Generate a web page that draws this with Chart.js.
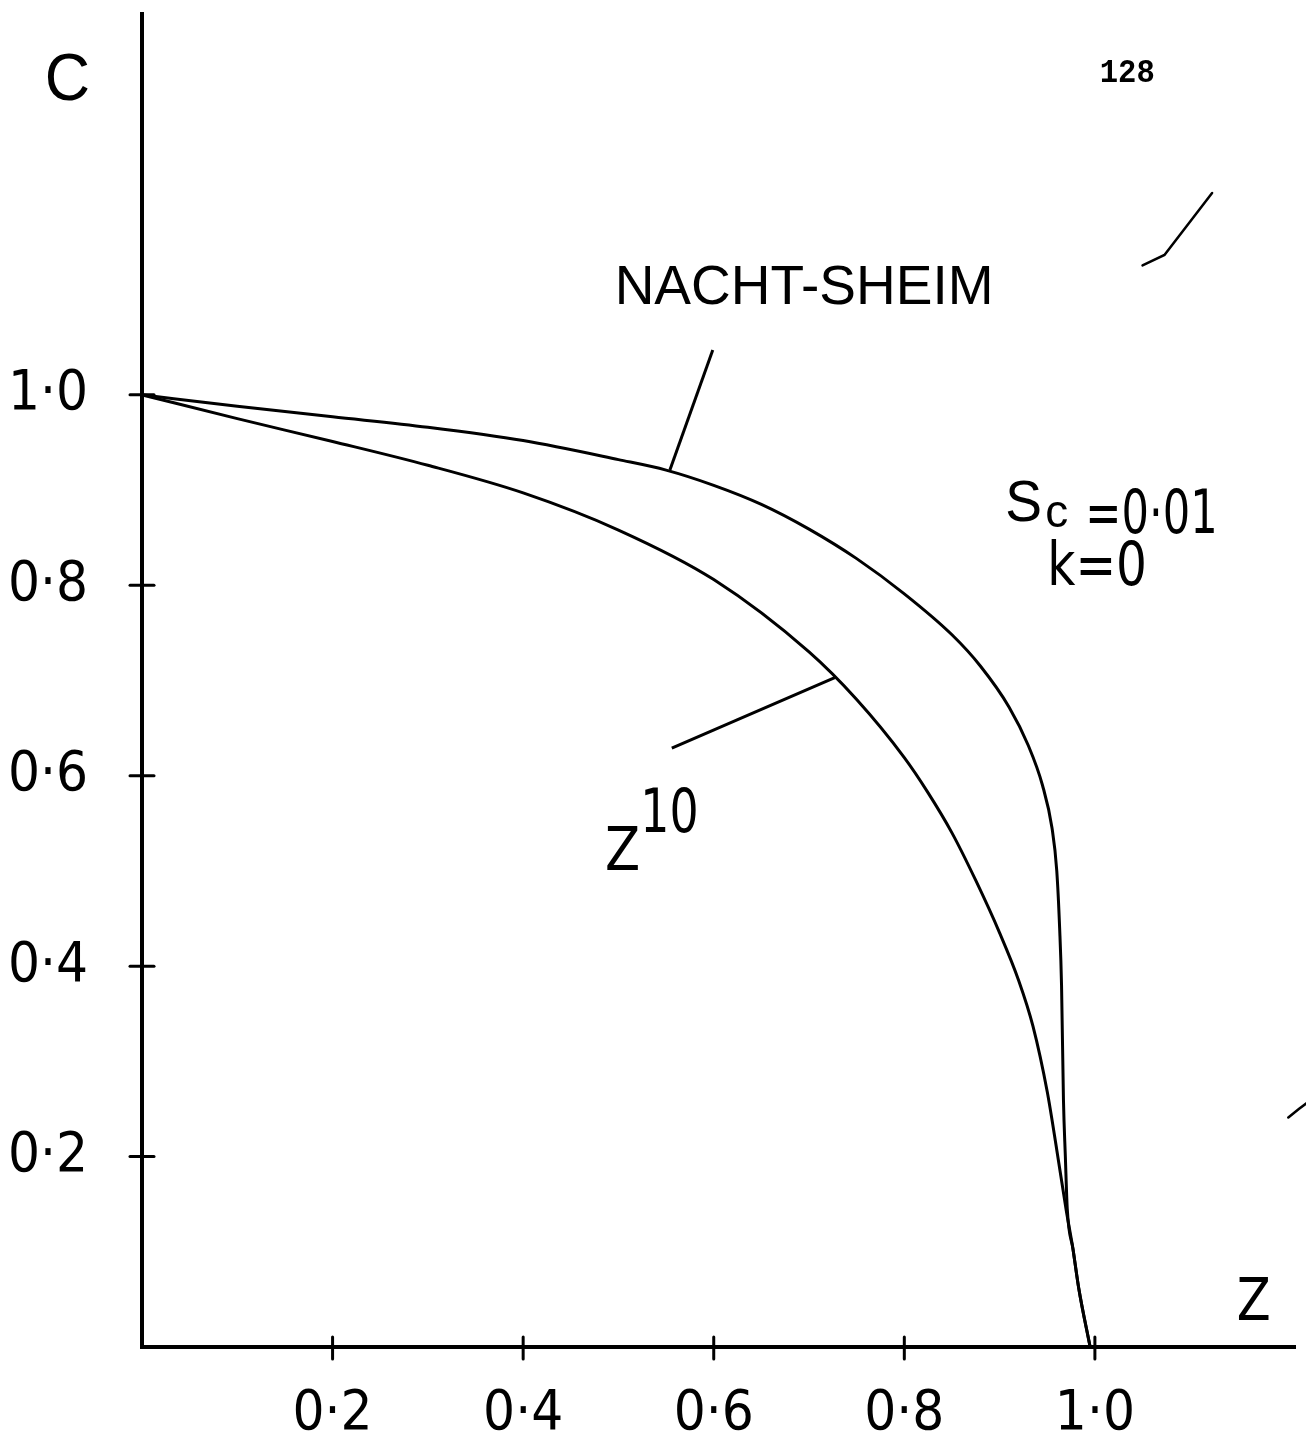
<!DOCTYPE html>
<html>
<head>
<meta charset="utf-8">
<script src="https://cdn.jsdelivr.net/npm/chart.js@4"></script>
<style>
html,body{margin:0;padding:0;background:#fff;}
canvas{display:block;}
</style>
</head>
<body>
<canvas id="c" width="1306" height="1437"></canvas>
<script>
// ---- Data ----
const nachtsheimZ = [0.000, 0.100, 0.200, 0.300, 0.400, 0.500, 0.550, 0.600, 0.650, 0.700, 0.750, 0.800, 0.850, 0.880, 0.910, 0.930, 0.945, 0.955, 0.960, 0.963, 0.965, 0.967, 0.969, 0.971, 0.977, 0.983, 0.995];
const nachtsheimC = [1.000, 0.988, 0.977, 0.966, 0.952, 0.932, 0.921, 0.905, 0.885, 0.859, 0.828, 0.791, 0.748, 0.715, 0.672, 0.632, 0.590, 0.545, 0.500, 0.440, 0.380, 0.260, 0.200, 0.145, 0.103, 0.062, 0.000];

const z10Z = [0.000, 0.100, 0.200, 0.300, 0.400, 0.500, 0.600, 0.700, 0.750, 0.800, 0.825, 0.850, 0.875, 0.900, 0.920, 0.935, 0.950, 0.960, 0.970, 0.977, 0.983, 0.995];
const z10C = [1.000, 0.975, 0.951, 0.926, 0.897, 0.858, 0.806, 0.730, 0.680, 0.619, 0.582, 0.540, 0.490, 0.435, 0.385, 0.337, 0.268, 0.207, 0.143, 0.103, 0.062, 0.000];

// leader lines (label pointers) in data units
const nachtLeaderZ = [0.599, 0.554];
const nachtLeaderC = [1.047, 0.921];
const z10LeaderZ = [0.556, 0.727];
const z10LeaderC = [0.629, 0.703];

// tick values and labels
const xTickValues = [0.2, 0.4, 0.6, 0.8, 1.0];
const xTickLabels = ['0·2', '0·4', '0·6', '0·8', '1·0'];
const yTickValues = [0.2, 0.4, 0.6, 0.8, 1.0];
const yTickLabels = ['0·2', '0·4', '0·6', '0·8', '1·0'];

// ---- Styling / annotation placement ----
const NARROW = '"Liberation Sans Narrow", "DejaVu Sans Condensed", "Liberation Sans", sans-serif';
const REG = '"Liberation Sans", "DejaVu Sans", sans-serif';

const textNotes = [
  {t: 'C', x: -0.102, y: 1.310, size: 66, fam: REG, sx: 0.95},
  {t: '128', x: 1.005, y: 1.329, size: 34, fam: '"Liberation Mono", "DejaVu Sans Mono", monospace', weight: 'bold', sx: 0.9},
  {t: 'NACHT-SHEIM', x: 0.496, y: 1.095, size: 55, fam: REG, sx: 1.0},
  {t: 'S', x: 0.906, y: 0.867, size: 58, fam: REG, sx: 0.95},
  {t: 'c', x: 0.948, y: 0.861, size: 46, fam: REG, sx: 1.0},
  {t: '=0·01', x: 0.990, y: 0.855, size: 60, fam: NARROW, sx: 0.8},
  {t: 'k=0', x: 0.950, y: 0.800, size: 60, fam: NARROW, sx: 0.9},
  {t: 'Z', x: 0.486, y: 0.501, size: 60, fam: NARROW, sx: 0.95},
  {t: '10', x: 0.523, y: 0.541, size: 60, fam: NARROW, sx: 0.85},
  {t: 'Z', x: 1.149, y: 0.028, size: 58, fam: NARROW, sx: 0.95}
];

const strayMarks = [
  [[1.050, 1.136], [1.073, 1.147], [1.123, 1.212]],
  [[1.203, 0.241], [1.214, 0.250], [1.222, 0.256]]
];

const pts = (xs, ys) => xs.map((v, i) => ({x: v, y: ys[i]}));
const labelFor = (vals, labs) => (v) => {
  const i = vals.findIndex(t => Math.abs(t - v) < 1e-6);
  return i >= 0 ? labs[i] : '';
};

const decor = {
  id: 'decor',
  afterDraw(chart) {
    const {ctx, scales: {x, y}} = chart;
    ctx.save();
    ctx.strokeStyle = '#000';
    ctx.fillStyle = '#000';
    ctx.lineCap = 'round';
    ctx.lineWidth = 3;
    const x0 = x.getPixelForValue(0), y0 = y.getPixelForValue(0);
    xTickValues.forEach(v => {
      const px = x.getPixelForValue(v);
      ctx.beginPath(); ctx.moveTo(px, y0 - 10); ctx.lineTo(px, y0 + 12); ctx.stroke();
    });
    yTickValues.forEach(v => {
      const py = y.getPixelForValue(v);
      ctx.beginPath(); ctx.moveTo(x0 - 12, py); ctx.lineTo(x0 + 12, py); ctx.stroke();
    });
    ctx.lineWidth = 2.5;
    strayMarks.forEach(m => {
      ctx.beginPath();
      m.forEach((p, i) => {
        const px = x.getPixelForValue(p[0]), py = y.getPixelForValue(p[1]);
        if (i === 0) ctx.moveTo(px, py); else ctx.lineTo(px, py);
      });
      ctx.stroke();
    });
    ctx.textBaseline = 'alphabetic';
    ctx.textAlign = 'left';
    textNotes.forEach(n => {
      ctx.save();
      ctx.font = `${n.weight || 'normal'} ${n.size}px ${n.fam}`;
      ctx.translate(x.getPixelForValue(n.x), y.getPixelForValue(n.y));
      ctx.scale(n.sx || 1, 1);
      ctx.fillText(n.t, 0, 0);
      ctx.restore();
    });
    ctx.restore();
  }
};

const lineStyle = {borderColor: '#000', borderWidth: 3, pointRadius: 0, fill: false};

new Chart(document.getElementById('c'), {
  type: 'line',
  data: {
    datasets: [
      Object.assign({label: 'NACHT-SHEIM', data: pts(nachtsheimZ, nachtsheimC), cubicInterpolationMode: 'monotone'}, lineStyle),
      Object.assign({label: 'Z^10', data: pts(z10Z, z10C), cubicInterpolationMode: 'monotone'}, lineStyle),
      Object.assign({label: 'leader1', data: pts(nachtLeaderZ, nachtLeaderC), tension: 0}, lineStyle),
      Object.assign({label: 'leader2', data: pts(z10LeaderZ, z10LeaderC), tension: 0}, lineStyle)
    ]
  },
  options: {
    responsive: false,
    animation: false,
    layout: {padding: {left: 0, top: 14, right: 11, bottom: 0}},
    plugins: {legend: {display: false}, tooltip: {enabled: false}},
    scales: {
      x: {
        type: 'linear', min: 0, max: 1.21, position: 'bottom',
        grid: {display: false, drawTicks: false},
        border: {display: true, color: '#000', width: 4},
        afterBuildTicks: s => { s.ticks = xTickValues.map(v => ({value: v})); },
        afterFit: s => { s.height = 90; s.paddingLeft = 0; s.paddingRight = 0; },
        ticks: {
          callback: labelFor(xTickValues, xTickLabels),
          color: '#000', padding: 34, maxRotation: 0, autoSkip: false,
          font: {family: NARROW, size: 56, lineHeight: 1.2}
        }
      },
      y: {
        type: 'linear', min: 0, max: 1.4,
        grid: {display: false, drawTicks: false},
        border: {display: true, color: '#000', width: 4},
        afterBuildTicks: s => { s.ticks = yTickValues.map(v => ({value: v})); },
        afterFit: s => { s.width = 142; s.paddingTop = 0; s.paddingBottom = 0; },
        ticks: {
          callback: labelFor(yTickValues, yTickLabels),
          color: '#000', padding: 54, autoSkip: false,
          font: {family: NARROW, size: 56, lineHeight: 1.2}
        }
      }
    }
  },
  plugins: [decor]
});
</script>
</body>
</html>
